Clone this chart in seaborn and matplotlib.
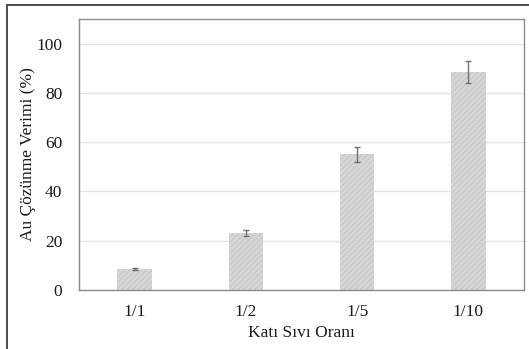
import matplotlib
matplotlib.use("Agg")
import matplotlib.pyplot as plt
import seaborn as sns
import pandas as pd
from matplotlib.lines import Line2D

categories = ["1/1", "1/2", "1/5", "1/10"]
values = [8.5, 23.2, 55.1, 88.6]
errors = [0.5, 1.2, 3.0, 4.5]
yticks = [0, 20, 40, 60, 80, 100]

sns.set_style("white")
plt.rcParams['font.family'] = ['Liberation Serif', 'DejaVu Serif']
plt.rcParams['hatch.color'] = '#c4c4c4'
plt.rcParams['hatch.linewidth'] = 0.6

W, H = 529, 349
fig = plt.figure(figsize=(W/100, H/100), dpi=100)
ax = fig.add_axes([79/W, 1-290/H, (524-79)/W, (290-19)/H])

df = pd.DataFrame({"cat": categories, "val": values})
sns.barplot(data=df, x="cat", y="val", order=categories, color="#d6d6d6",
            width=0.31, ax=ax, errorbar=None, saturation=1)
for p in ax.patches:
    p.set_hatch('//////')
    p.set_edgecolor('#c4c4c4')
    p.set_linewidth(0)

xs = [p.get_x() + p.get_width()/2 for p in ax.patches]
ax.errorbar(xs, values, yerr=errors, fmt='none', ecolor='#707070',
            elinewidth=1.0, capsize=2, capthick=1.0, zorder=5)

ax.set_xlim(-0.5, 3.5)
ax.set_ylim(0, 110)
ax.set_yticks(yticks)
ax.yaxis.grid(True, color='#e3e3e3', linewidth=1)
ax.set_axisbelow(True)
for s in ax.spines.values():
    s.set_color('#8c8c8c')
    s.set_linewidth(1.0)
ax.tick_params(axis='both', direction='out', length=4, width=1, color='#555555',
               labelsize=12.5, labelcolor='#1a1a1a')
ax.tick_params(axis='y', pad=8)
ax.tick_params(axis='x', pad=6)
ax.set_xlabel("Katı Sıvı Oranı", fontsize=12.5, color='#1a1a1a', labelpad=4)
ax.set_ylabel("Au Çözünme Verimi (%)", fontsize=12.5, color='#1a1a1a', labelpad=0)

# outer frame
fig.add_artist(Line2D([7/W, 7/W], [0, 1-5/H], transform=fig.transFigure,
                      color='#404040', linewidth=1.3))
fig.add_artist(Line2D([7/W, 1], [1-5/H, 1-5/H], transform=fig.transFigure,
                      color='#404040', linewidth=1.3))

fig.savefig("out.png", dpi=100)
